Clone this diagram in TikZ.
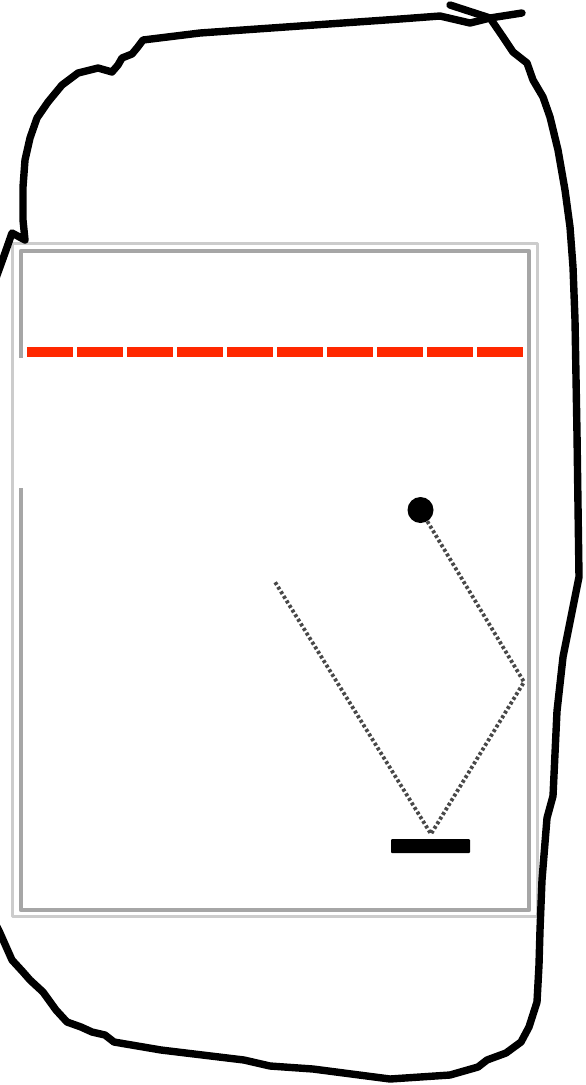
\documentclass[tikz,border=0pt]{standalone}
\definecolor{brickR}{RGB}{255,40,0}
\definecolor{frameL}{RGB}{204,204,204}
\definecolor{frameD}{RGB}{166,166,166}
\definecolor{trailG}{RGB}{72,72,72}
\begin{document}
\begin{tikzpicture}[x=1pt,y=-1pt,line join=round,line cap=round,
  brick/.style={fill=brickR},
  trail/.style={trailG,line width=3.8pt,dash pattern=on 3pt off 2.4pt,line cap=butt},
  scrawl/.style={line width=7.4pt,black}]
\useasboundingbox (0,0) rectangle (586,1085);
\clip (0,0) rectangle (586,1085);
\fill[white] (0,0) rectangle (586,1085);
\draw[frameL,line width=3.5pt] (12.5,243.5) rectangle (537.5,916.5);
\draw[frameD,line width=4.5pt] (21,251) rectangle (529,910);
\fill[white] (19,357.5) rectangle (527,488);
\foreach \i in {0,...,9} \fill[brick] (27+50*\i,347) rectangle ++(46,10);
\node[circle,fill=black,minimum size=26pt,inner sep=0pt] (ball) at (420.5,510) {};
\node[fill=black,rounded corners=1pt,minimum width=79pt,minimum height=14pt,inner sep=0pt] (paddle) at (430.5,846) {};
\coordinate (wallhit) at (524,682);
\coordinate (padhit) at (431,834);
\coordinate (trailend) at (275,582);
\draw[trail] (ball) -- (wallhit) -- (padhit) -- (trailend);
\draw[scrawl] (522,13) -- (490,18) -- (470,23) -- (440,16) -- (400,19) -- (300,26) -- (200,33) -- (143,40)
  -- (137,48) -- (132,54) -- (122,58) -- (118,65) -- (112,72) -- (98,68) -- (78,73) -- (62,85)
  -- (48,102) -- (37,118) -- (30,138) -- (25,160) -- (23,187) -- (23,220) -- (25,240) -- (12,233)
  -- (5,253) -- (-4,278);
\draw[scrawl] (450,5) -- (490,18) -- (503,37) -- (513,52) -- (527,63) -- (533,80) -- (543,97)
  -- (550,117) -- (558,150) -- (565,190) -- (570,227) -- (573,267) -- (575,320) -- (577,434)
  -- (579,577) -- (572,612) -- (563,657) -- (557,711) -- (553,796) -- (547,818) -- (542,880)
  -- (540,930) -- (539,965) -- (537,1002) -- (529,1027) -- (521,1042) -- (506,1053) -- (487,1060)
  -- (478,1067) -- (450,1075) -- (390,1079) -- (313,1069) -- (270,1066) -- (244,1060) -- (161,1050)
  -- (114,1042) -- (105,1035) -- (92,1032) -- (81,1027) -- (67,1022) -- (56,1010) -- (43,992)
  -- (30,980) -- (23,972) -- (12,960) -- (0,933) -- (-4,925);
\end{tikzpicture}
\end{document}
